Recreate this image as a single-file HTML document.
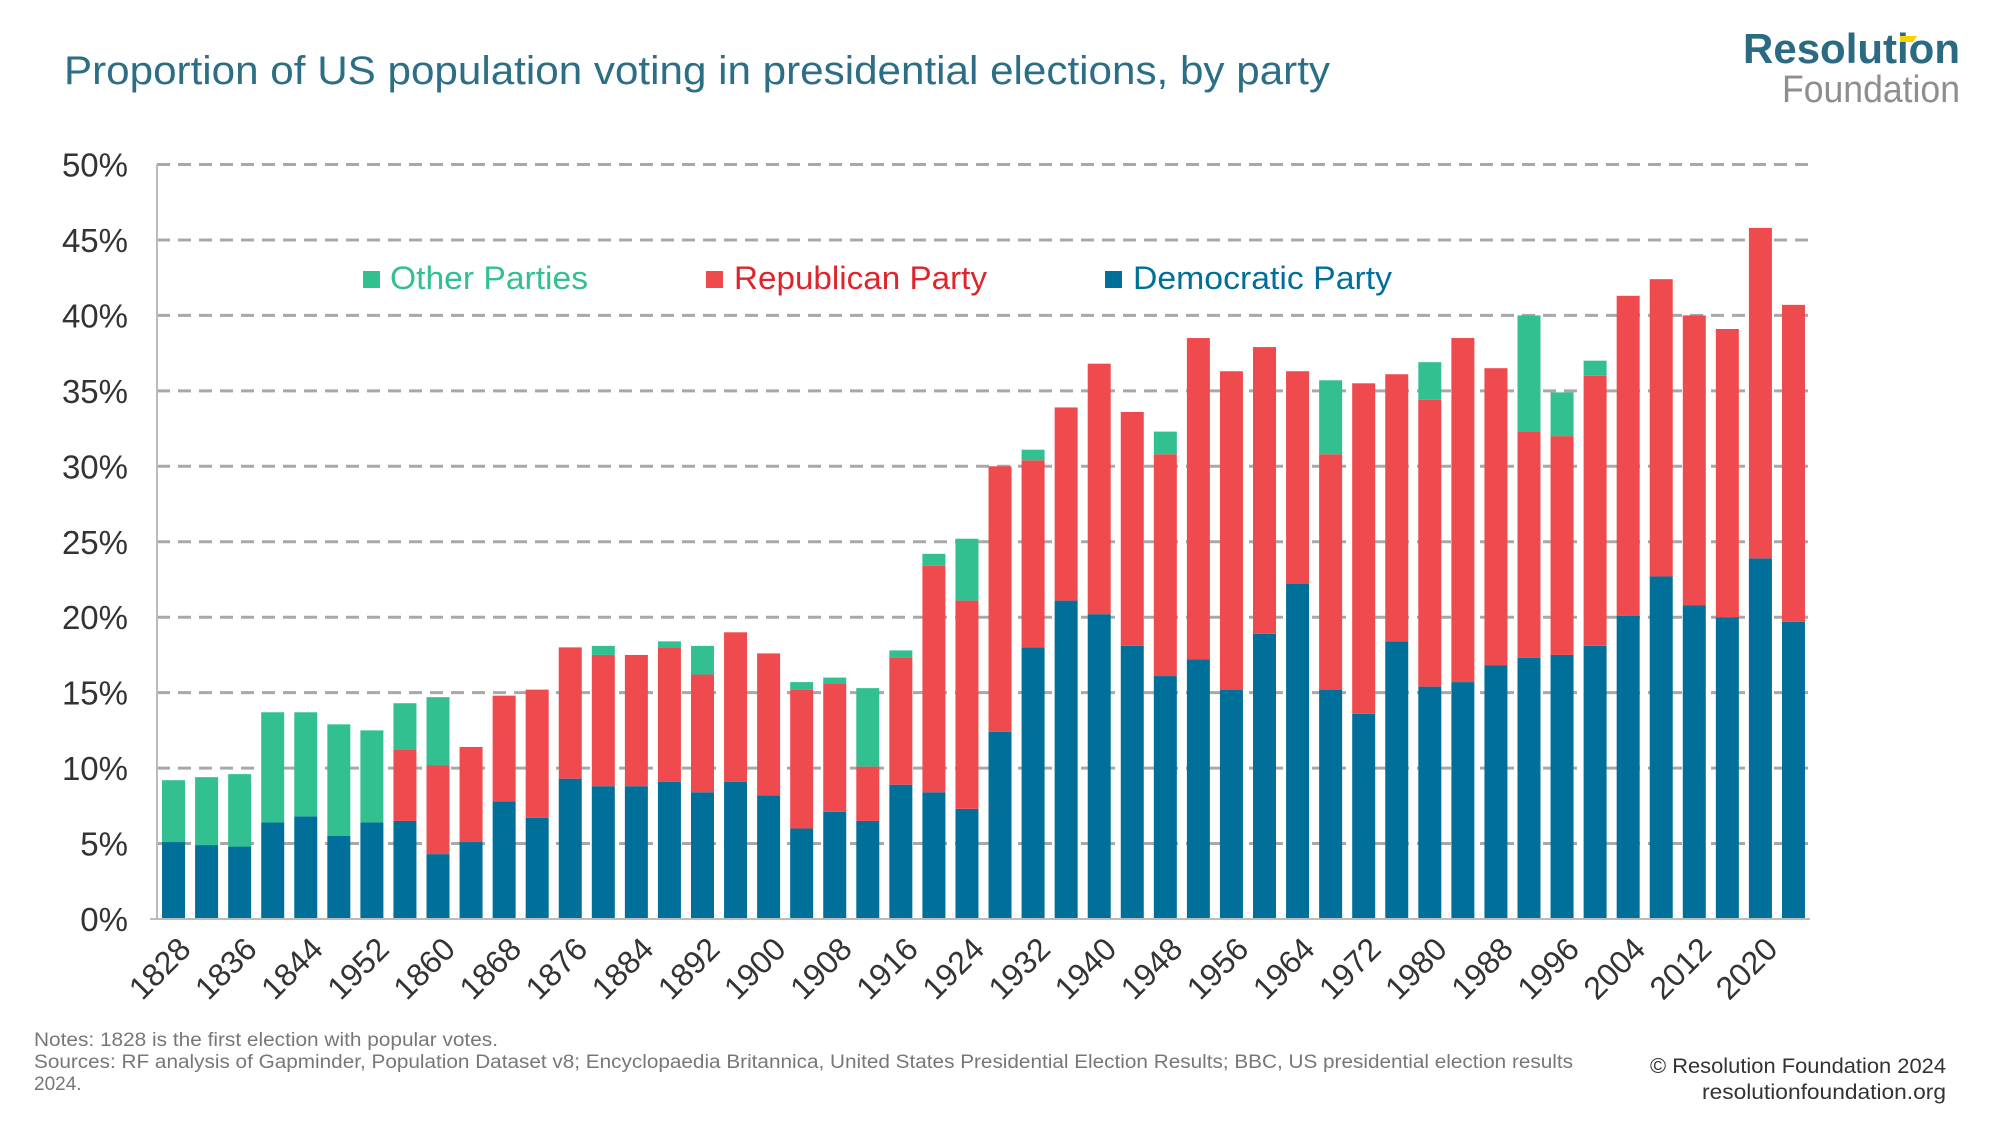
<!DOCTYPE html>
<html><head><meta charset="utf-8"><style>html,body{margin:0;padding:0;background:#fff}svg{display:block}</style></head>
<body>
<svg id="c" width="2000" height="1125" xmlns="http://www.w3.org/2000/svg" font-family="Liberation Sans, sans-serif">
<text x="64" y="84" font-size="40" fill="#2b6e86" textLength="1266" lengthAdjust="spacingAndGlyphs">Proportion of US population voting in presidential elections, by party</text>
<text x="1743" y="63" font-size="42" font-weight="bold" fill="#2a6a82" textLength="217" lengthAdjust="spacingAndGlyphs">Resolution</text>
<polygon points="1900,36 1917,36 1913,42 1900,42" fill="#f5d300"/>
<text x="1782" y="102" font-size="38" fill="#8e8e8e" textLength="178" lengthAdjust="spacingAndGlyphs">Foundation</text>
<g id="grid"></g>
<g id="bars"></g>
<g id="xl" font-size="32" fill="#333"></g>
<line x1="157" y1="164" x2="157" y2="919" stroke="#bbb" stroke-width="2"/>
<line x1="150" y1="919" x2="1810" y2="919" stroke="#bbb" stroke-width="2"/>
<g font-size="32">
<rect x="363" y="271" width="17" height="17" fill="#33c090"/><text x="390" y="289" fill="#33c090" textLength="198" lengthAdjust="spacingAndGlyphs">Other Parties</text>
<rect x="706" y="271" width="17" height="17" fill="#ef4a4d"/><text x="734" y="289" fill="#e0242b" textLength="253" lengthAdjust="spacingAndGlyphs">Republican Party</text>
<rect x="1105" y="271" width="17" height="17" fill="#00709a"/><text x="1133" y="289" fill="#00709a" textLength="259" lengthAdjust="spacingAndGlyphs">Democratic Party</text>
</g>
<g font-size="19" fill="#777">
<text x="34" y="1046" textLength="464" lengthAdjust="spacingAndGlyphs">Notes: 1828 is the first election with popular votes.</text>
<text x="34" y="1068" textLength="1539" lengthAdjust="spacingAndGlyphs">Sources: RF analysis of Gapminder, Population Dataset v8; Encyclopaedia Britannica, United States Presidential Election Results; BBC, US presidential election results</text>
<text x="34" y="1090">2024.</text>
</g>
<g font-size="21" fill="#333" text-anchor="end">
<text x="1946" y="1073" textLength="296" lengthAdjust="spacingAndGlyphs">© Resolution Foundation 2024</text>
<text x="1946" y="1099" textLength="244" lengthAdjust="spacingAndGlyphs">resolutionfoundation.org</text>
</g>
</svg>
<script>
const ns="http://www.w3.org/2000/svg";
const y0=919,ppp=(919-164.5)/50;
function Y(v){return y0-v*ppp}
const g=document.getElementById('grid');
for(let i=0;i<=10;i++){const v=i*5,y=Y(v);
 if(i>0){const l=document.createElementNS(ns,'line');l.setAttribute('x1',157);l.setAttribute('x2',1810);l.setAttribute('y1',y);l.setAttribute('y2',y);l.setAttribute('stroke','#a8a8a8');l.setAttribute('stroke-width','3');l.setAttribute('stroke-dasharray','13 8');g.appendChild(l);}
 const t=document.createElementNS(ns,'text');t.setAttribute('x',128);t.setAttribute('y',y+12);t.setAttribute('text-anchor','end');t.setAttribute('font-size','33');t.setAttribute('fill','#333');t.textContent=v+'%';g.appendChild(t);}
const D=[[5.1,0,9.2],[4.9,0,9.4],[4.8,0,9.6],[6.4,0,13.7],[6.8,0,13.7],[5.5,0,12.9],[6.4,0,12.5],[6.5,11.2,14.3],[4.3,10.2,14.7],[5.1,11.4,0],[7.8,14.8,0],[6.7,15.2,0],[9.3,18.0,0],[8.8,17.5,18.1],[8.8,17.5,0],[9.1,18.0,18.4],[8.4,16.2,18.1],[9.1,19.0,0],[8.2,17.6,0],[6.0,15.2,15.7],[7.1,15.6,16.0],[6.5,10.1,15.3],[8.9,17.3,17.8],[8.4,23.4,24.2],[7.3,21.1,25.2],[12.4,30.0,0],[18.0,30.4,31.1],[21.1,33.9,0],[20.2,36.8,0],[18.1,33.6,0],[16.1,30.8,32.3],[17.2,38.5,0],[15.2,36.3,0],[18.9,37.9,0],[22.2,36.3,0],[15.2,30.8,35.7],[13.6,35.5,0],[18.4,36.1,0],[15.4,34.4,36.9],[15.7,38.5,0],[16.8,36.5,0],[17.3,32.3,40.0],[17.5,32.0,34.9],[18.1,36.0,37.0],[20.1,41.3,0],[22.7,42.4,0],[20.8,40.0,0],[20.0,39.1,0],[23.9,45.8,0],[19.7,40.7,0]];
const b=document.getElementById('bars'),xl=document.getElementById('xl');
const sp=(1810-157)/50,w=23;
function R(x,a,c,col){if(c<=a)return;const r=document.createElementNS(ns,'rect');r.setAttribute('x',x-w/2);r.setAttribute('width',w);r.setAttribute('y',Y(c));r.setAttribute('height',Y(a)-Y(c));r.setAttribute('fill',col);b.appendChild(r);}
D.forEach((d,i)=>{const cx=157+sp*(i+0.5);const[dm,rp,ot]=d;
 R(cx,0,dm,'#00709a');const top=rp?rp:dm;if(rp)R(cx,dm,rp,'#ef4a4d');if(ot)R(cx,top,ot,'#33c090');
 if(i%2==0){const yr=i==6?1952:1828+4*i;const t=document.createElementNS(ns,'text');const tx=cx+12,ty=944;t.setAttribute('x',tx);t.setAttribute('y',ty);t.setAttribute('text-anchor','end');t.setAttribute('transform',`rotate(-45 ${tx} ${ty})`);t.setAttribute('dy','10');t.textContent=yr;xl.appendChild(t);}
});
</script>
</body></html>
